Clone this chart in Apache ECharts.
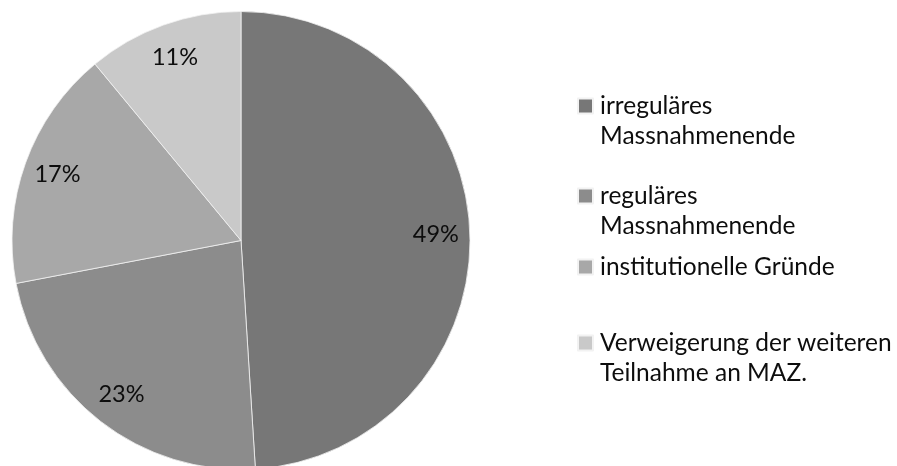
<!DOCTYPE html>
<html>
<head>
<meta charset="utf-8">
<script src="https://cdn.jsdelivr.net/npm/echarts@6/dist/echarts.min.js"></script>
<style>
  html, body { margin: 0; padding: 0; background: #fff; }
  #chart { width: 897px; height: 466px; }
</style>
</head>
<body>
<div id="chart"></div>
<script>
// Gründe für das Ende der Massnahme (Anteile in Prozent)
const categories = [
  'irreguläres Massnahmenende',
  'reguläres Massnahmenende',
  'institutionelle Gründe',
  'Verweigerung der weiteren Teilnahme an MAZ.'
];
const legendLines = [
  ['irreguläres', 'Massnahmenende'],
  ['reguläres', 'Massnahmenende'],
  ['institutionelle Gründe'],
  ['Verweigerung der weiteren', 'Teilnahme an MAZ.']
];
const shares = [49, 23, 17, 11];
const colors = ['#777777', '#8c8c8c', '#a8a8a8', '#c9c9c9'];

const FONT = 'Lato';
const LEGEND_FS = 24.5;
const LABEL_FS = 23.5;
const LH = 30;

const pieData = categories.map((name, i) => ({
  name: name,
  value: shares[i],
  itemStyle: { color: colors[i] }
}));

// one legend block per entry so wrapped entries keep the marker on their first line
const legendCenters = [106, 196, 267, 343];
const legends = categories.map((name, i) => {
  const lines = legendLines[i];
  const text = lines.length > 1 ? '\u00a0\n' + lines.join('\n') : lines[0];
  const blockH = lines.length > 1 ? LH * 3 : LH;
  return {
    data: [name],
    orient: 'vertical',
    left: 577,
    top: legendCenters[i] - blockH / 2,
    padding: 0,
    itemWidth: 15,
    itemHeight: 15,
    icon: 'rect',
    selectedMode: false,
    formatter: () => text,
    textStyle: {
      fontFamily: FONT,
      fontSize: LEGEND_FS,
      lineHeight: LH,
      color: '#0d0d0d',
      padding: [0, 0, 0, 2]
    }
  };
});

const chart = echarts.init(document.getElementById('chart'), null, { renderer: 'canvas' });
chart.setOption({
  animation: false,
  backgroundColor: '#fff',
  legend: legends,
  series: [
    {
      type: 'pie',
      center: [241, 240.5],
      radius: 229,
      startAngle: 90,
      clockwise: true,
      data: pieData,
      label: { show: false },
      labelLine: { show: false },
      itemStyle: { borderColor: '#f2f2f2', borderWidth: 0.8 },
      emphasis: { disabled: true }
    },
    {
      // transparent ring carrying the percentage labels near the rim
      type: 'pie',
      center: [241, 240.5],
      radius: [155, 229],
      startAngle: 90,
      clockwise: true,
      silent: true,
      data: pieData.map(d => ({ name: d.name, value: d.value, itemStyle: { color: 'rgba(0,0,0,0)' } })),
      itemStyle: { borderWidth: 0 },
      label: {
        show: true,
        position: 'inside',
        formatter: '{c}%',
        fontFamily: FONT,
        fontSize: LABEL_FS,
        color: '#0d0d0d'
      },
      labelLine: { show: false },
      emphasis: { disabled: true }
    }
  ]
});
</script>
</body>
</html>
